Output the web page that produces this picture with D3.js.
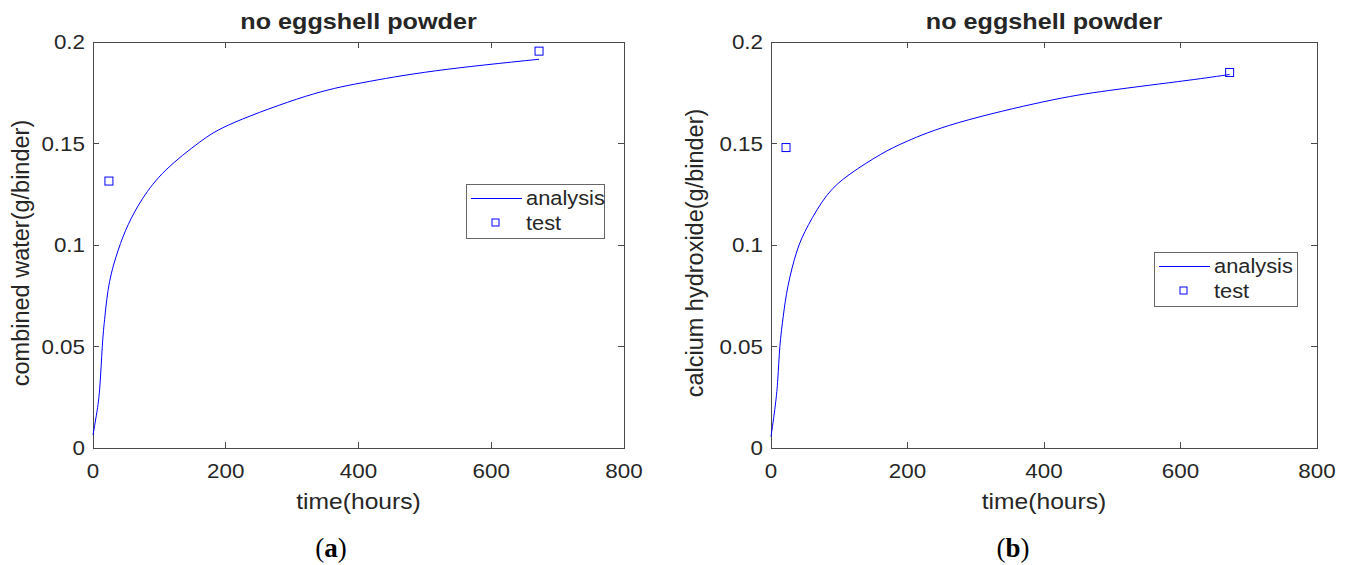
<!DOCTYPE html>
<html>
 <head>
  <meta charset="utf-8">
  <title>no eggshell powder</title>
  <script src="https://cdnjs.cloudflare.com/ajax/libs/d3/7.8.5/d3.min.js"></script>
  <style>
    body { margin: 0; background: #fff; }
    text { font-family: "Liberation Sans", Arial, sans-serif; fill: #262626; }
  </style>
 </head>
 <body>
  <script>
    // ---- data ----
    var xTicks = [0, 200, 400, 600, 800];
    var yTicks = [0, 0.05, 0.1, 0.15, 0.2];
    var yTickLabels = ["0", "0.05", "0.1", "0.15", "0.2"];

    // (a) combined water
    var waterTime  = [0, 5, 10, 14, 18, 25, 38, 53, 75, 110, 160, 214, 320, 405, 516, 672];
    var waterValue = [0.0064, 0.016, 0.029, 0.050, 0.065, 0.082, 0.0975, 0.110, 0.123, 0.137,
                      0.1505, 0.1605, 0.1732, 0.1799, 0.1858, 0.1915];
    var waterTestTime  = [24, 672];
    var waterTestValue = [0.1315, 0.1955];

    // (b) calcium hydroxide
    var chTime  = [0, 4, 7, 10, 13, 18, 25, 38, 55, 82, 116, 160, 200, 275, 400, 495, 608, 672];
    var chValue = [0.0056, 0.015, 0.023, 0.034, 0.050, 0.065, 0.080, 0.0970, 0.110, 0.1245,
                   0.1350, 0.1445, 0.1512, 0.1603, 0.1706, 0.1761, 0.1810, 0.184];
    var chTestTime  = [22, 672];
    var chTestValue = [0.148, 0.185];

    var W = 1349, H = 565;
    var SX = 1.12;   // glyphs in the picture are a bit wide

    var svg = d3.select("body").append("svg")
                .attr("width", W)
                .attr("height", H);

    function stretchedText(g, x, y, str, size, anchor, weight) {
      return g.append("text")
              .attr("transform", "translate(" + x + "," + y + ") scale(" + SX + ",1)")
              .attr("text-anchor", anchor)
              .attr("font-size", size)
              .attr("font-weight", weight || "normal")
              .text(str);
    }

    function panel(p) {
      var x = d3.scaleLinear().domain([0, 800]).range([p.left, p.right]);
      var y = d3.scaleLinear().domain([0, 0.2]).range([448, 42]);
      var g = svg.append("g");

      // box
      g.append("rect")
       .attr("x", p.left).attr("y", 42)
       .attr("width", p.right - p.left).attr("height", 406)
       .attr("fill", "none").attr("stroke", "#4a4a4a").attr("stroke-width", 1)
       .attr("shape-rendering", "crispEdges");

      // ticks, inward on all four sides
      var tk = 6;
      xTicks.forEach(function(t) {
        g.append("line").attr("x1", x(t)).attr("x2", x(t)).attr("y1", 448).attr("y2", 448 - tk)
         .attr("stroke", "#4a4a4a").attr("shape-rendering", "crispEdges");
        g.append("line").attr("x1", x(t)).attr("x2", x(t)).attr("y1", 42).attr("y2", 42 + tk)
         .attr("stroke", "#4a4a4a").attr("shape-rendering", "crispEdges");
        stretchedText(g, x(t), 478, String(t), 20, "middle");
      });
      yTicks.forEach(function(v, i) {
        g.append("line").attr("x1", p.left).attr("x2", p.left + tk).attr("y1", y(v)).attr("y2", y(v))
         .attr("stroke", "#4a4a4a").attr("shape-rendering", "crispEdges");
        g.append("line").attr("x1", p.right).attr("x2", p.right - tk).attr("y1", y(v)).attr("y2", y(v))
         .attr("stroke", "#4a4a4a").attr("shape-rendering", "crispEdges");
        stretchedText(g, p.left - 8, y(v) + 7, yTickLabels[i], 20, "end");
      });

      // labels
      var cx = (p.left + p.right) / 2;
      stretchedText(g, cx, 29, "no eggshell powder", 22.5, "middle", "bold");
      stretchedText(g, cx, 509, "time(hours)", 22, "middle");
      g.append("text")
       .attr("transform", "translate(" + p.ylabX + ",253) rotate(-90)")
       .attr("text-anchor", "middle")
       .attr("font-size", 23.5)
       .text(p.ylabel);

      // analysis curve
      var line = d3.line()
                   .x(function(d) { return x(d[0]); })
                   .y(function(d) { return y(d[1]); })
                   .curve(d3.curveNatural);
      g.append("path")
       .datum(d3.zip(p.t, p.v))
       .attr("d", line)
       .attr("fill", "none").attr("stroke", "#0000ff").attr("stroke-width", 1);

      // test markers
      g.selectAll(null)
       .data(d3.zip(p.tt, p.tv))
       .enter().append("rect")
       .attr("x", function(d) { return x(d[0]) - 4; })
       .attr("y", function(d) { return y(d[1]) - 4; })
       .attr("width", 8).attr("height", 8)
       .attr("fill", "none").attr("stroke", "#0000ff").attr("stroke-width", 1);

      // legend
      var L = p.legend;
      g.append("rect")
       .attr("x", L.x).attr("y", L.y).attr("width", L.w).attr("height", 54)
       .attr("fill", "#fff").attr("stroke", "#666").attr("stroke-width", 1)
       .attr("shape-rendering", "crispEdges");
      g.append("line")
       .attr("x1", L.x + 5).attr("x2", L.x + 56).attr("y1", L.y + 14.5).attr("y2", L.y + 14.5)
       .attr("stroke", "#0000ff").attr("stroke-width", 1);
      g.append("rect")
       .attr("x", L.x + 26).attr("y", L.y + 35).attr("width", 7).attr("height", 7)
       .attr("fill", "none").attr("stroke", "#0000ff");
      stretchedText(g, L.x + 60, L.y + 21, "analysis", 19.5, "start");
      stretchedText(g, L.x + 60, L.y + 46, "test", 19.5, "start");

      // caption (a)/(b)
      var cap = g.append("text")
                 .attr("x", p.capX).attr("y", 557)
                 .attr("text-anchor", "middle")
                 .attr("font-size", 27)
                 .style("font-family", "'Liberation Serif', 'DejaVu Serif', serif")
                 .style("fill", "#000");
      cap.append("tspan").text("(");
      cap.append("tspan").attr("font-weight", "bold").text(p.cap);
      cap.append("tspan").text(")");
    }

    panel({ left: 93, right: 624, t: waterTime, v: waterValue,
            tt: waterTestTime, tv: waterTestValue,
            ylabel: "combined water(g/binder)", ylabX: 29,
            legend: { x: 466, y: 184, w: 138 }, cap: "a", capX: 331 });

    panel({ left: 771, right: 1317, t: chTime, v: chValue,
            tt: chTestTime, tv: chTestValue,
            ylabel: "calcium hydroxide(g/binder)", ylabX: 703,
            legend: { x: 1154, y: 252, w: 143 }, cap: "b", capX: 1013 });
  </script>
 </body>
</html>
